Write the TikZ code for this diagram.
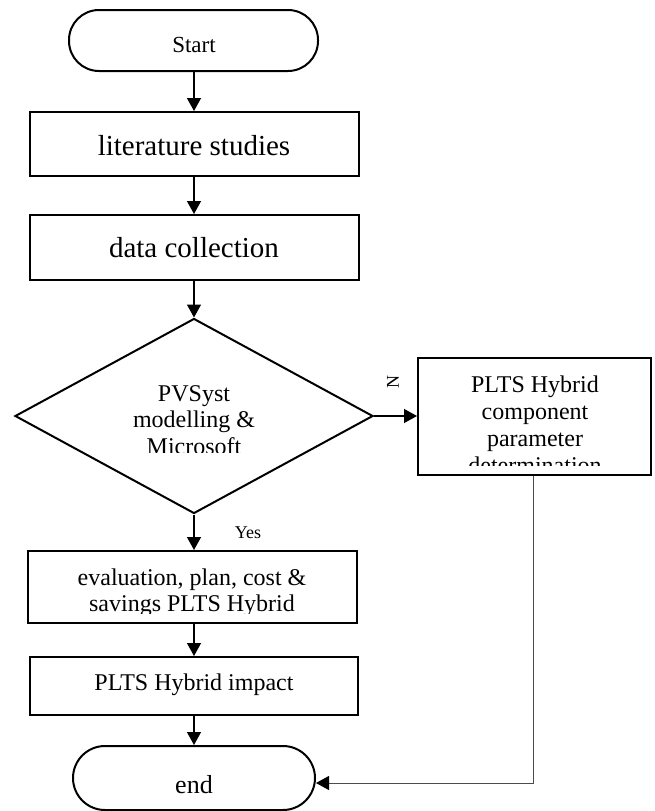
\documentclass[tikz,border=0pt]{standalone}
\usepackage{fontspec}
\setmainfont{Liberation Serif}
\usetikzlibrary{arrows.meta,shapes.geometric}
\begin{document}
\begin{tikzpicture}[x=1pt,y=-1pt,
  shp/.style={draw=black,line width=2pt,inner sep=0pt,fill=white},
  boxnode/.style={shp,rectangle},
  termnode/.style={shp,rectangle,rounded corners=30pt},
  decnode/.style={shp,diamond},
  big/.style={inner sep=0pt,anchor=base,font=\fontsize{29}{32}\selectfont},
  mid/.style={inner sep=0pt,anchor=base,font=\fontsize{24}{26}\selectfont},
  small/.style={inner sep=0pt,font=\fontsize{18}{20}\selectfont},
  arr/.style={line width=1.3pt,-{Triangle[length=13pt,width=14pt]}},
  fbarr/.style={line width=1pt,draw=black!70,-{Triangle[length=13pt,width=14pt,color=black]}}
]
\useasboundingbox (0,0) rectangle (654,811);

% shapes
\node[termnode,minimum width=249pt,minimum height=61pt] (start) at (193.5,40.5) {};
\node[boxnode,minimum width=329pt,minimum height=64pt] (lit) at (194.5,144) {};
\node[boxnode,minimum width=329pt,minimum height=65pt] (data) at (194.5,247.5) {};
\node[decnode,minimum width=358pt,minimum height=195pt] (dia) at (194,416) {};
\node[boxnode,minimum width=233pt,minimum height=117pt] (pr) at (534.5,416.5) {};
\node[boxnode,minimum width=329pt,minimum height=72pt] (eval) at (192.5,587) {};
\node[boxnode,minimum width=328pt,minimum height=58pt] (imp) at (194,686) {};
\node[termnode,rounded corners=32pt,minimum width=242pt,minimum height=64pt] (fin) at (194,778) {};

% texts
\node[inner sep=0pt,anchor=base,font=\fontsize{23}{25}\selectfont] (tstart) at (194,52.5) {Start};
\node[big] (tlit) at (194,155) {literature studies};
\node[big] (tdata) at (194,257) {data collection};
\begin{scope}
  \clip (100,370) rectangle (290,452.5);
  \node[mid] (td1) at (194,401.7) {PVSyst};
  \node[mid] (td2) at (194,427.7) {modelling \&};
  \node[mid] (td3) at (194,454) {Microsoft};
\end{scope}
\begin{scope}
  \clip (420,360) rectangle (650,465);
  \node[mid] (tp1) at (535,392) {PLTS Hybrid};
  \node[mid] (tp2) at (535,419) {component};
  \node[mid] (tp3) at (535,446) {parameter};
  \node[mid] (tp4) at (535,473) {determination};
\end{scope}
\begin{scope}
  \clip (30,553) rectangle (355,613);
  \node[mid] (te1) at (192,585) {evaluation, plan, cost \&};
  \node[mid] (te2) at (192,611.5) {savings PLTS Hybrid};
\end{scope}
\node[mid] (timp) at (194,690) {PLTS Hybrid impact};
\node[inner sep=0pt,anchor=base,font=\fontsize{26}{28}\selectfont] (tfin) at (194,793) {end};
\node[small] (yes) at (248,533) {Yes};
\node[small,rotate=90] (no) at (393,382) {N};

% connectors
\draw[arr] (start.south -| tstart) -- (lit.north -| tstart);
\draw[arr] (lit.south -| tstart) -- (data.north -| tstart);
\draw[arr] (data.south -| dia) -- (dia.north);
\draw[arr] (dia.east) -- (pr.west |- dia.east);
\draw[arr] (dia.south) -- (eval.north -| dia.south);
\draw[arr] (eval.south -| dia.south) -- (imp.north -| dia.south);
\draw[arr] (imp.south -| dia.south) -- (fin.north -| dia.south);
\coordinate (fbc) at (533,783);
\draw[fbarr] (pr.south -| fbc) -- (fbc) -- (fin.east |- fbc);
\end{tikzpicture}
\end{document}
